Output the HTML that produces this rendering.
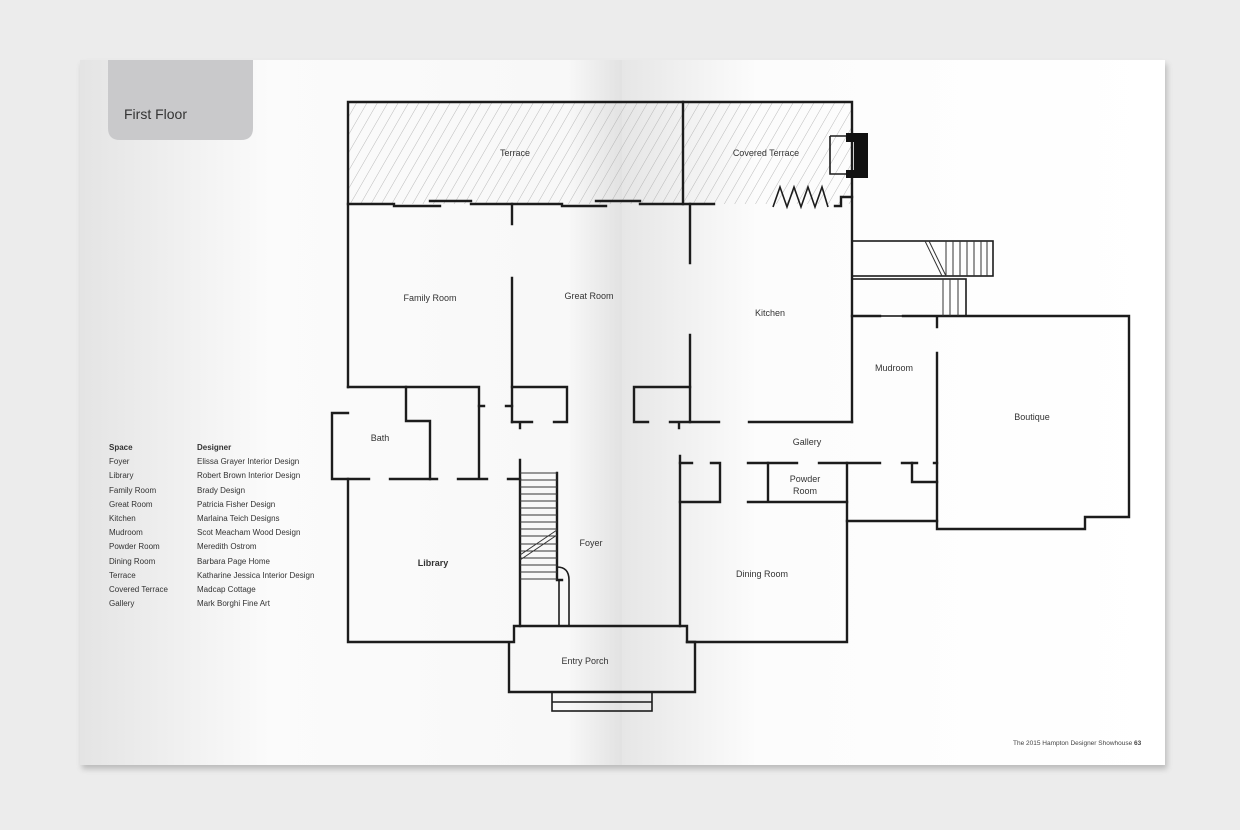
<!DOCTYPE html>
<html><head><meta charset="utf-8"><style>
html,body{margin:0;padding:0;background:#ececec;}
svg{display:block;}
text{font-family:"Liberation Sans",sans-serif;}
</style></head><body>
<svg width="1240" height="830" viewBox="0 0 1240 830" xmlns="http://www.w3.org/2000/svg">
<defs>
<linearGradient id="lp" x1="0" x2="1" y1="0" y2="0">
<stop offset="0" stop-color="#e4e4e4"/><stop offset="0.35" stop-color="#fbfbfb"/><stop offset="0.9" stop-color="#f8f8f8"/><stop offset="1" stop-color="#e2e2e2"/>
</linearGradient>
<linearGradient id="rp" x1="0" x2="1" y1="0" y2="0">
<stop offset="0" stop-color="#e6e6e6"/><stop offset="0.1" stop-color="#efefef"/><stop offset="0.25" stop-color="#fcfcfc"/><stop offset="1" stop-color="#ffffff"/>
</linearGradient>
<pattern id="hatch" width="9" height="9" patternUnits="userSpaceOnUse" patternTransform="rotate(30)">
<line x1="0" y1="0" x2="0" y2="9" stroke="#aaa" stroke-width="0.8"/>
</pattern>
<filter id="sh" x="-5%" y="-5%" width="110%" height="115%"><feGaussianBlur stdDeviation="3"/></filter>
</defs>
<rect x="0" y="0" width="1240" height="830" fill="#ececec"/>
<rect x="82" y="64" width="1085" height="705" fill="#9a9a9a" filter="url(#sh)" opacity="0.6"/>
<rect x="80" y="60" width="542" height="705" fill="url(#lp)"/>
<rect x="622" y="60" width="543" height="705" fill="url(#rp)"/>
<path d="M108 60 H253 V128 Q253 140 241 140 H120 Q108 140 108 128 Z" fill="#c9c9cb"/>
<text x="124" y="119" font-size="14" fill="#333">First Floor</text>

<!-- hatch -->
<rect x="349" y="103" width="334" height="101" fill="url(#hatch)"/>
<rect x="684" y="103" width="167" height="101" fill="url(#hatch)"/>

<g stroke="#1c1c1c" stroke-width="2.4" fill="none" stroke-linecap="square">
<path d="M348 387 V102 H852 V422"/>
<path d="M683 102 V204"/>
<path d="M348 204 H394 M394 206 H440 M430 201 H471 M471 204 H562 M562 206 H606 M596 201 H640 M640 204 H714"/>
<path d="M690 204 V263 M690 335 V422"/>
<path d="M512 204 V224 M512 278 V422"/>
<path d="M835 206 H841 V197 H852"/>
<!-- bath -->
<path d="M348 387 H479 V479 M332 413 H348 M332 413 V479 H369 M390 479 H437 M458 479 H487 M508 479 H520"/>
<path d="M406 387 V421 H430 V479"/>
<path d="M479 406 H484 M506 406 H512"/>
<path d="M512 387 H567 V422 H554 M532 422 H512 M520 422 V428"/>
<path d="M690 387 H634 V422 H648 M670 422 H719 M749 422 H852 M679 422 V428"/>
<!-- foyer -->
<path d="M520 460 V626 M557 473 V580 H562"/>
<path d="M348 479 V642 H514 V626 H687 V642 H695 V692 H509 V642 H514"/>
<path d="M687 642 H847 V463 M680 456 V626"/>
<path d="M680 463 H692 M711 463 H720 V502 H680"/>
<path d="M748 463 H797 M819 463 H880 M902 463 H917 M934 463 H937"/>
<path d="M768 463 V502 M748 502 H847 M847 521 H937 M912 463 V482 H937"/>
<path d="M852 316 H880 M903 316 H937 V327 M937 353 V529 H1085 V517 H1129 V316 H937"/>
</g>
<g stroke="#1c1c1c" stroke-width="1.6" fill="none">
<rect x="552" y="692" width="100" height="19"/>
<line x1="552" y1="702" x2="652" y2="702"/>
<rect x="852" y="241" width="141" height="35"/>
<rect x="852" y="279" width="114" height="37"/>
<path d="M830 136 H848 M830 136 V174 H848"/>
<path d="M773 207 L780 187 L787 207 L794 187 L801 207 L808 187 L815 207 L822 187 L828 207"/>
<path d="M557 567 Q569 567 569 580 V626 M559 580 V626"/>
</g>
<path d="M846 133 H868 V178 H846 V170 H854 V142 H846 Z" fill="#111"/>
<g stroke="#333" stroke-width="1">
<line x1="925" y1="241" x2="942" y2="276"/><line x1="929" y1="241" x2="946" y2="276"/>
<line x1="946" y1="241" x2="946" y2="276"/><line x1="953" y1="241" x2="953" y2="276"/>
<line x1="960" y1="241" x2="960" y2="276"/><line x1="967" y1="241" x2="967" y2="276"/>
<line x1="974" y1="241" x2="974" y2="276"/><line x1="981" y1="241" x2="981" y2="276"/>
<line x1="987" y1="241" x2="987" y2="276"/>
<line x1="943" y1="279" x2="943" y2="316"/><line x1="950" y1="279" x2="950" y2="316"/>
<line x1="958" y1="279" x2="958" y2="316"/>
<line x1="520" y1="473" x2="557" y2="473"/><line x1="520" y1="480" x2="557" y2="480"/>
<line x1="520" y1="487" x2="557" y2="487"/><line x1="520" y1="494" x2="557" y2="494"/>
<line x1="520" y1="501" x2="557" y2="501"/><line x1="520" y1="508" x2="557" y2="508"/>
<line x1="520" y1="515" x2="557" y2="515"/><line x1="520" y1="522" x2="557" y2="522"/>
<line x1="520" y1="529" x2="557" y2="529"/><line x1="520" y1="536" x2="557" y2="536"/>
<line x1="520" y1="544" x2="557" y2="544"/><line x1="520" y1="551" x2="557" y2="551"/>
<line x1="520" y1="558" x2="557" y2="558"/><line x1="520" y1="565" x2="557" y2="565"/>
<line x1="520" y1="572" x2="557" y2="572"/><line x1="520" y1="579" x2="557" y2="579"/>
<line x1="520" y1="555" x2="557" y2="530"/><line x1="520" y1="560" x2="557" y2="535"/>
</g>
<g font-size="9" fill="#333" text-anchor="middle">
<text x="515" y="156">Terrace</text>
<text x="766" y="156">Covered Terrace</text>
<text x="430" y="301">Family Room</text>
<text x="589" y="299">Great Room</text>
<text x="770" y="316">Kitchen</text>
<text x="894" y="371">Mudroom</text>
<text x="1032" y="420">Boutique</text>
<text x="807" y="445">Gallery</text>
<text x="805" y="482">Powder</text>
<text x="805" y="494">Room</text>
<text x="380" y="441">Bath</text>
<text x="433" y="566" font-weight="bold">Library</text>
<text x="591" y="546">Foyer</text>
<text x="762" y="577">Dining Room</text>
<text x="585" y="664">Entry Porch</text>
</g>
<g font-size="8" fill="#333">
<text x="109" y="450" font-weight="bold">Space</text><text x="197" y="450" font-weight="bold">Designer</text>
<text x="109" y="464">Foyer</text><text x="197" y="464">Elissa Grayer Interior Design</text>
<text x="109" y="478">Library</text><text x="197" y="478">Robert Brown Interior Design</text>
<text x="109" y="493">Family Room</text><text x="197" y="493">Brady Design</text>
<text x="109" y="507">Great Room</text><text x="197" y="507">Patricia Fisher Design</text>
<text x="109" y="521">Kitchen</text><text x="197" y="521">Marlaina Teich Designs</text>
<text x="109" y="535">Mudroom</text><text x="197" y="535">Scot Meacham Wood Design</text>
<text x="109" y="549">Powder Room</text><text x="197" y="549">Meredith Ostrom</text>
<text x="109" y="564">Dining Room</text><text x="197" y="564">Barbara Page Home</text>
<text x="109" y="578">Terrace</text><text x="197" y="578">Katharine Jessica Interior Design</text>
<text x="109" y="592">Covered Terrace</text><text x="197" y="592">Madcap Cottage</text>
<text x="109" y="606">Gallery</text><text x="197" y="606">Mark Borghi Fine Art</text>
</g>
<text x="1013" y="745" font-size="6.5" fill="#444">The 2015 Hampton Designer Showhouse <tspan font-weight="bold">63</tspan></text>
</svg>
</body></html>
